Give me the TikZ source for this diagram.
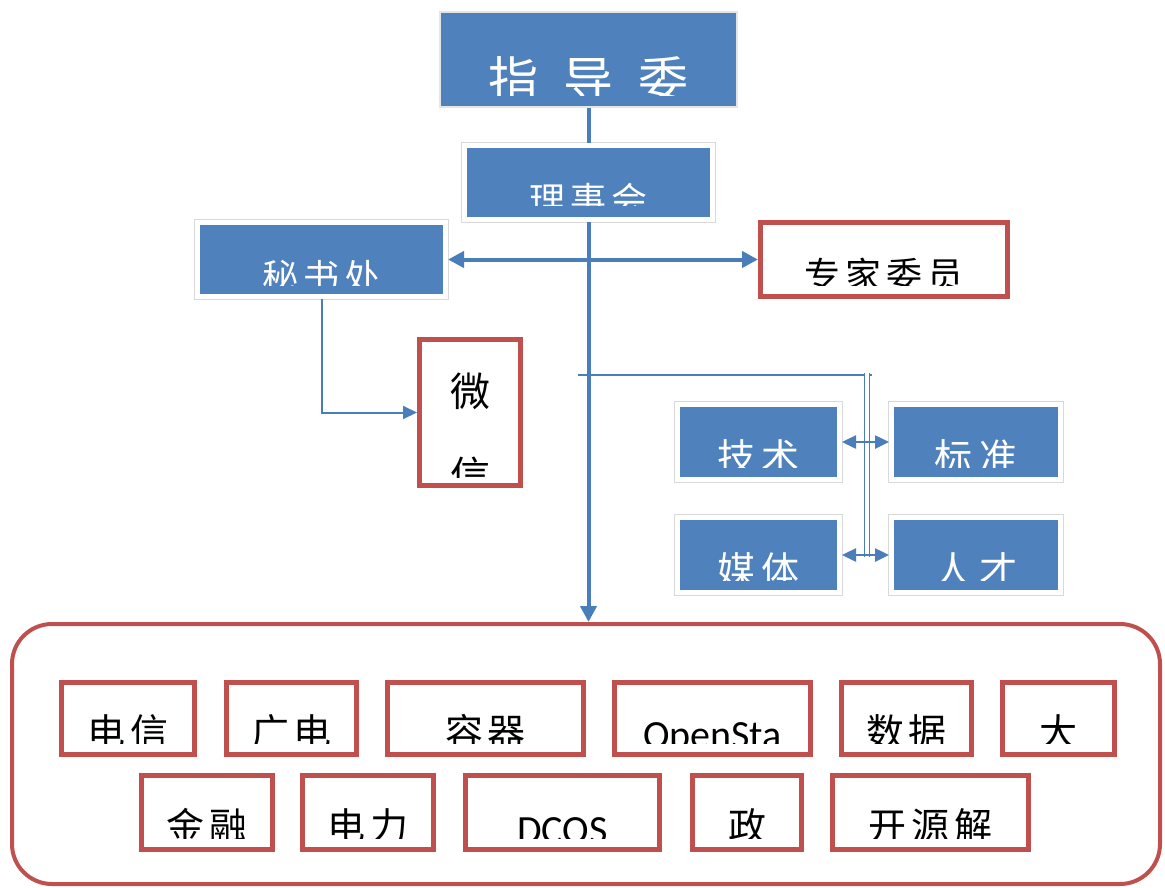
\documentclass[tikz,border=0pt]{standalone}
\usepackage{fontspec}
\setmainfont{Carlito}
\newfontfamily\cjk{Noto Sans CJK SC}
\usetikzlibrary{arrows.meta}
\definecolor{boxblue}{HTML}{4F81BD}
\definecolor{boxred}{HTML}{C0504D}
\definecolor{lineblue}{HTML}{4A7EBB}
% label whose lower part is cut off by the box
\newcommand{\cutlabel}[5][]{%
  \begin{scope}
    \clip ([yshift=#4]#2.south west) rectangle (#2.north east);
    \node[anchor=base, inner sep=0pt, #1] (#2-txt) at ([yshift=#3]#2.south) {#5};
  \end{scope}}
\begin{document}
\begin{tikzpicture}[x=1pt, y=-1pt,
  topbox/.style={fill=boxblue, draw=black!10, line width=1.5pt, inner sep=0pt},
  bluebox/.style={fill=boxblue, draw=white, line width=5pt, preaction={draw=black!15, line width=7pt}, inner sep=0pt},
  redbox/.style={fill=white, draw=boxred, line width=5pt, inner sep=0pt},
  toptext/.style={text=white, font=\cjk\addfontfeature{LetterSpace=50}\fontsize{50}{60}\selectfont},
  bluetext/.style={text=white, font=\cjk\addfontfeature{LetterSpace=14}\fontsize{36}{40}\selectfont},
  midtext/.style={text=white, font=\cjk\addfontfeature{LetterSpace=18}\fontsize{38}{40}\selectfont},
  blacktext/.style={text=black, font=\cjk\addfontfeature{LetterSpace=14}\fontsize{36}{40}\selectfont},
  rowtext/.style={text=black, font=\cjk\addfontfeature{LetterSpace=12}\fontsize{38}{40}\selectfont},
  latintext/.style={text=black, font=\fontsize{40}{44}\selectfont},
  mainline/.style={draw=lineblue, line width=4pt},
  thinline/.style={draw=lineblue, line width=2pt},
  busline/.style={draw=lineblue, line width=1.5pt, double=white, double distance=3.5pt},
  bigtip/.tip={Triangle[length=16pt, width=16pt]},
  smalltip/.tip={Triangle[length=14pt, width=13pt]}]
  \useasboundingbox (0,0) rectangle (1165,887);
  \fill[white] (0,0) rectangle (1165,887);

  % upper part
  \node[topbox, minimum width=297pt, minimum height=95pt] (top) at (588.5,59.5) {};
  \node[bluebox, minimum width=248pt, minimum height=74pt] (board) at (588.5,182.5) {};
  \node[bluebox, minimum width=248pt, minimum height=74pt] (office) at (321.5,259.5) {};
  \node[redbox, minimum width=247pt, minimum height=74pt] (experts) at (884,259.5) {};
  \node[redbox, minimum width=101pt, minimum height=146pt] (wechat) at (470,412.5) {};
  \node[bluebox, minimum width=162pt, minimum height=75pt] (tech) at (758.5,442) {};
  \node[bluebox, minimum width=169pt, minimum height=75pt] (std) at (976,442) {};
  \node[bluebox, minimum width=162pt, minimum height=75pt] (media) at (758.5,555) {};
  \node[bluebox, minimum width=169pt, minimum height=75pt] (talent) at (976,555) {};

  \cutlabel[toptext]{top}{9pt}{12pt}{指导委}
  \cutlabel[bluetext]{board}{9pt}{17pt}{理事会}
  \cutlabel[bluetext]{office}{9pt}{14pt}{秘书处}
  \cutlabel[blacktext]{experts}{11pt}{14pt}{专家委员}
  \cutlabel[blacktext, align=center, font=\cjk\fontsize{40}{84}\selectfont]{wechat}{-2pt}{11pt}{微\\信}
  \cutlabel[midtext]{tech}{10.5pt}{15pt}{技术}
  \cutlabel[midtext]{std}{10.5pt}{15pt}{标准}
  \cutlabel[midtext]{media}{11pt}{15pt}{媒体}
  \cutlabel[midtext]{talent}{11pt}{15pt}{人才}

  % lower part
  \node[draw=boxred, line width=4pt, rounded corners=40pt, minimum width=1148pt, minimum height=260pt] (area) at (586,754) {};
  \node[redbox, minimum width=133pt, minimum height=72pt] (telecom) at (128,718.5) {};
  \node[redbox, minimum width=130pt, minimum height=72pt] (radio) at (291.5,718.5) {};
  \node[redbox, minimum width=196pt, minimum height=72pt] (container) at (485.5,718.5) {};
  \node[redbox, minimum width=196pt, minimum height=72pt] (openstack) at (712.5,718.5) {};
  \node[redbox, minimum width=130pt, minimum height=72pt] (data) at (906.5,718.5) {};
  \node[redbox, minimum width=112pt, minimum height=72pt] (big) at (1058.5,718.5) {};
  \node[redbox, minimum width=131pt, minimum height=74pt] (finance) at (207,812.5) {};
  \node[redbox, minimum width=131pt, minimum height=74pt] (power) at (368,812.5) {};
  \node[redbox, minimum width=194pt, minimum height=74pt] (dcos) at (562.5,812.5) {};
  \node[redbox, minimum width=109pt, minimum height=74pt] (gov) at (747,812.5) {};
  \node[redbox, minimum width=196pt, minimum height=74pt] (solution) at (930.5,812.5) {};

  \cutlabel[rowtext]{telecom}{10.5pt}{14pt}{电信}
  \cutlabel[rowtext]{radio}{10.5pt}{14pt}{广电}
  \cutlabel[rowtext]{container}{10.5pt}{14pt}{容器}
  \cutlabel[latintext]{openstack}{9pt}{14pt}{OpenSta}
  \cutlabel[rowtext]{data}{10.5pt}{14pt}{数据}
  \cutlabel[rowtext]{big}{10.5pt}{14pt}{大}
  \cutlabel[rowtext]{finance}{12pt}{14pt}{金融}
  \cutlabel[rowtext]{power}{12pt}{14pt}{电力}
  \cutlabel[latintext]{dcos}{9pt}{14pt}{DCOS}
  \cutlabel[rowtext]{gov}{12pt}{14pt}{政}
  \cutlabel[rowtext]{solution}{12pt}{14pt}{开源解}

  % connectors
  \coordinate (tap) at (578,375);
  \coordinate (corner) at (872,375);
  \coordinate (bustop) at (867,373);
  \coordinate (busend) at (867,557);
  \draw[mainline] (top) -- (board);
  \draw[mainline, -bigtip] (board) -- (board |- area.north);
  \draw[mainline, bigtip-bigtip] (office) -- (experts);
  \draw[thinline, -smalltip] (office.south) |- (wechat.west);
  \draw[draw=lineblue, line width=1.5pt] (tap) -- (corner);
  \draw[busline] (bustop) -- (busend);
  \draw[draw=lineblue, line width=2.5pt, smalltip-smalltip] (tech) -- (std);
  \draw[draw=lineblue, line width=2.5pt, smalltip-smalltip] (media) -- (talent);
\end{tikzpicture}
\end{document}
